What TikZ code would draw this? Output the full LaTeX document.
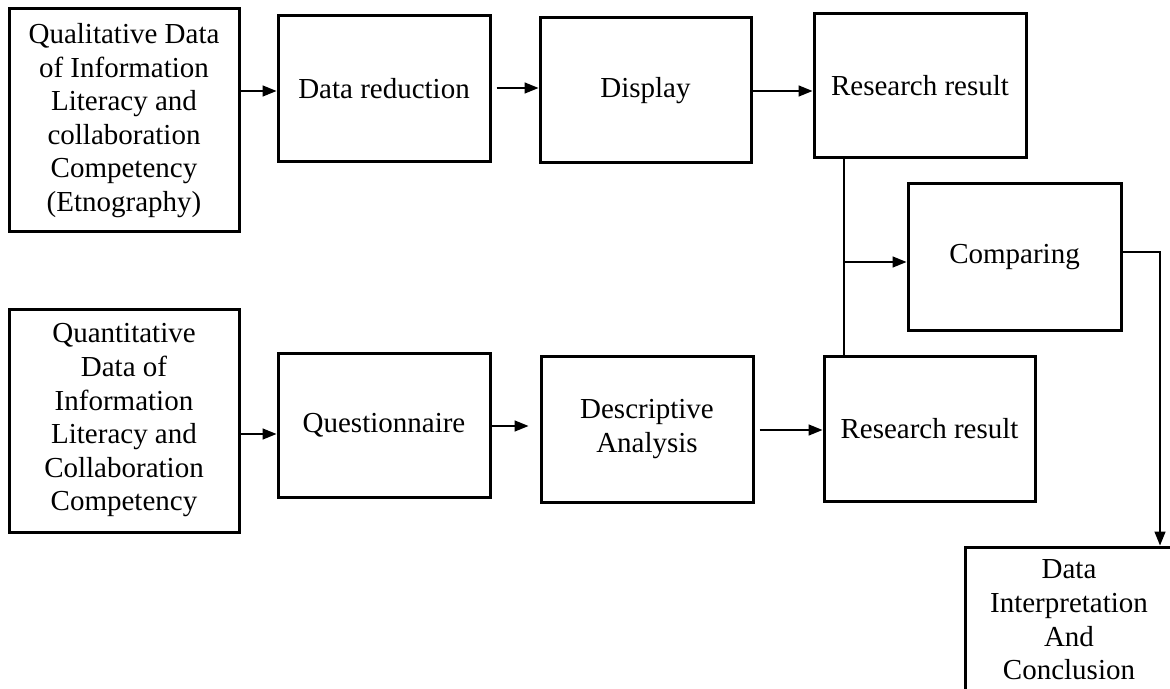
\documentclass[tikz,border=0pt]{standalone}
\usepackage{fontspec}
\setmainfont{Liberation Serif}
\usetikzlibrary{arrows.meta}

\begin{document}
\begin{tikzpicture}[x=0.5pt, y=-0.5pt,
    box/.style={draw, line width=1.5pt, align=center, inner sep=0pt,
      font=\fontsize{14.5}{16.8}\selectfont},
    flow/.style={line width=0.75pt, -{Triangle[length=7pt,width=5.5pt]}}]
    \useasboundingbox (0,0) rectangle (1170,689);
    \clip (0,0) rectangle (1170,689);
    % Nodes
    \node[box, minimum width=115pt, minimum height=111.5pt] (qual) at (124,120.5)
      {Qualitative Data\\of Information\\Literacy and\\collaboration\\Competency\\(Etnography)};
    \node[box, minimum width=106pt, minimum height=73pt] (dr) at (384,89) {Data reduction};
    \node[box, minimum width=105.5pt, minimum height=72.5pt] (disp) at (645.5,90.5) {Display};
    \node[box, minimum width=106pt, minimum height=72pt] (rr1) at (920,86) {Research result};
    \node[box, minimum width=106.5pt, minimum height=73pt] (comp) at (1014.5,257) {Comparing};
    \node[box, minimum width=115pt, minimum height=111.5pt] (quan) at (124,420.5)
      {Quantitative\\Data of\\Information\\Literacy and\\Collaboration\\Competency};
    \node[box, minimum width=106pt, minimum height=72pt] (quest) at (384,425) {Questionnaire};
    \node[box, minimum width=106pt, minimum height=73pt] (desc) at (647,429) {Descriptive\\Analysis};
    \node[box, minimum width=105.5pt, minimum height=72.5pt] (rr2) at (929.5,428.5) {Research result};
    \node[box, minimum width=104pt, minimum height=73pt] (dic) at (1069,620)
      {Data\\Interpretation\\And\\Conclusion};
    \coordinate (tj) at (844,262);
    \coordinate (drop) at (1160,252);
    % Connectors
    \draw[flow] (qual.east |- 0,91) -- (dr.west |- 0,91);
    \draw[flow, shorten <=2.5pt] (dr.east |- 0,88) -- (disp.west |- 0,88);
    \draw[flow] (disp.east |- 0,91) -- (rr1.west |- 0,91);
    \draw[flow] (quan.east |- 0,434) -- (quest.west |- 0,434);
    \draw[flow, shorten >=5.5pt] (quest.east |- 0,426) -- (desc.west |- 0,426);
    \draw[flow, shorten <=2.5pt] (desc.east |- 0,430) -- (rr2.west |- 0,430);
    \draw[line width=0.75pt] (tj |- rr1.south) -- (tj |- rr2.north);
    \draw[flow] (tj) -- (tj -| comp.west);
    \draw[flow] (drop -| comp.east) -| (drop |- dic.north);
\end{tikzpicture}
\end{document}
